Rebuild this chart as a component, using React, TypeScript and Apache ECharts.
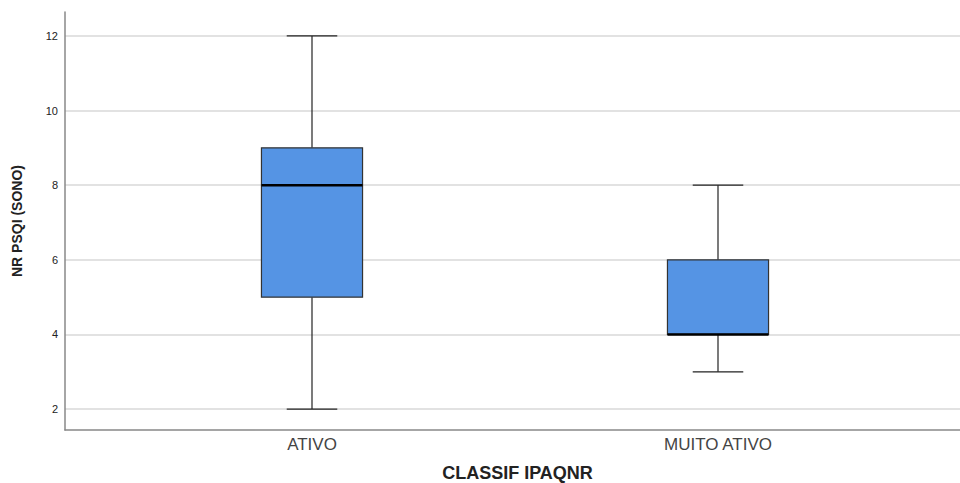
import React, { useEffect, useRef } from "react";
import * as echarts from "echarts";

const categories = ["ATIVO", "MUITO ATIVO"];
const mins = [2, 3];
const q1s = [5, 4];
const medians = [8, 4];
const q3s = [9, 6];
const maxs = [12, 8];
const yTicks = [2, 4, 6, 8, 10, 12];

export default function App() {
  const ref = useRef<HTMLDivElement>(null);
  useEffect(() => {
    if (!ref.current) return;
    const chart = echarts.init(ref.current, undefined, { renderer: "svg" });
    const data = categories.map((_, i) => [i, mins[i], q1s[i], medians[i], q3s[i], maxs[i]]);
    const yMin = 1.44;
    const yMax = 12.64;
    chart.setOption({
      animation: false,
      backgroundColor: "#ffffff",
      grid: [
        { left: 65, right: 0, top: 12, bottom: 53, outerBoundsMode: "none", containLabel: false },
        { left: 109, right: 39, top: 12, bottom: 53, outerBoundsMode: "none", containLabel: false },
      ],
      xAxis: [
        {
          gridIndex: 0,
          type: "value",
          min: 0,
          max: 1,
          name: "CLASSIF IPAQNR",
          nameLocation: "middle",
          nameGap: 35,
          nameTextStyle: { fontFamily: "Liberation Sans", fontSize: 18, lineHeight: 15, fontWeight: "bold", color: "#222", padding: [0, 0, 0, 10] },
          axisLine: { show: true, lineStyle: { color: "#888", width: 1.5 } },
          axisTick: { show: false },
          axisLabel: { show: false },
          splitLine: { show: false },
        },
        {
          gridIndex: 1,
          type: "category",
          data: categories,
          axisLine: { show: false },
          axisTick: { show: false },
          axisLabel: { fontFamily: "Liberation Sans", fontSize: 17, color: "#444", margin: 6 },
          splitLine: { show: false },
        },
      ],
      yAxis: [
        {
          gridIndex: 0,
          type: "value",
          min: yMin,
          max: yMax,
          name: "NR PSQI (SONO)",
          nameLocation: "middle",
          nameGap: 41,
          nameTextStyle: { fontFamily: "Liberation Sans", fontSize: 14, fontWeight: "bold", color: "#222" },
          axisLine: { show: true, lineStyle: { color: "#888", width: 1.5 } },
          axisTick: { show: false, customValues: yTicks },
          axisLabel: { customValues: yTicks, fontFamily: "Liberation Sans", fontSize: 11, color: "#222", margin: 7 },
          splitLine: { show: true, lineStyle: { color: "#d9d9d9", width: 1.5 } },
        },
        {
          gridIndex: 1,
          type: "value",
          min: yMin,
          max: yMax,
          show: false,
          splitLine: { show: false },
        },
      ],
      series: [
        {
          type: "custom",
          xAxisIndex: 1,
          yAxisIndex: 1,
          data,
          encode: { x: 0, y: [1, 2, 3, 4, 5] },
          renderItem: (params: any, api: any) => {
            const c = api.value(0);
            const pMin = api.coord([c, api.value(1)]);
            const pQ1 = api.coord([c, api.value(2)]);
            const pMed = api.coord([c, api.value(3)]);
            const pQ3 = api.coord([c, api.value(4)]);
            const pMax = api.coord([c, api.value(5)]);
            const band = api.size([1, 0])[0];
            const bw = band * 0.249;
            const cw = bw / 2;
            const x = pMed[0];
            const lineStyle = { stroke: "#222", lineWidth: 1.2, fill: "none" };
            return {
              type: "group",
              children: [
                { type: "line", shape: { x1: x, y1: pMax[1], x2: x, y2: pQ3[1] }, style: lineStyle },
                { type: "line", shape: { x1: x, y1: pQ1[1], x2: x, y2: pMin[1] }, style: lineStyle },
                { type: "line", shape: { x1: x - cw / 2, y1: pMax[1], x2: x + cw / 2, y2: pMax[1] }, style: lineStyle },
                { type: "line", shape: { x1: x - cw / 2, y1: pMin[1], x2: x + cw / 2, y2: pMin[1] }, style: lineStyle },
                {
                  type: "rect",
                  shape: { x: x - bw / 2, y: pQ3[1], width: bw, height: pQ1[1] - pQ3[1] },
                  style: { fill: "#5594e4", stroke: "#333", lineWidth: 1.2 },
                },
                {
                  type: "line",
                  shape: { x1: x - bw / 2, y1: pMed[1], x2: x + bw / 2, y2: pMed[1] },
                  style: { stroke: "#000", lineWidth: 2.5 },
                },
              ],
            };
          },
        },
      ],
    });
    return () => chart.dispose();
  }, []);
  return <div ref={ref} style={{ width: 960, height: 483, position: "absolute", left: 0, top: 0 }} />;
}
